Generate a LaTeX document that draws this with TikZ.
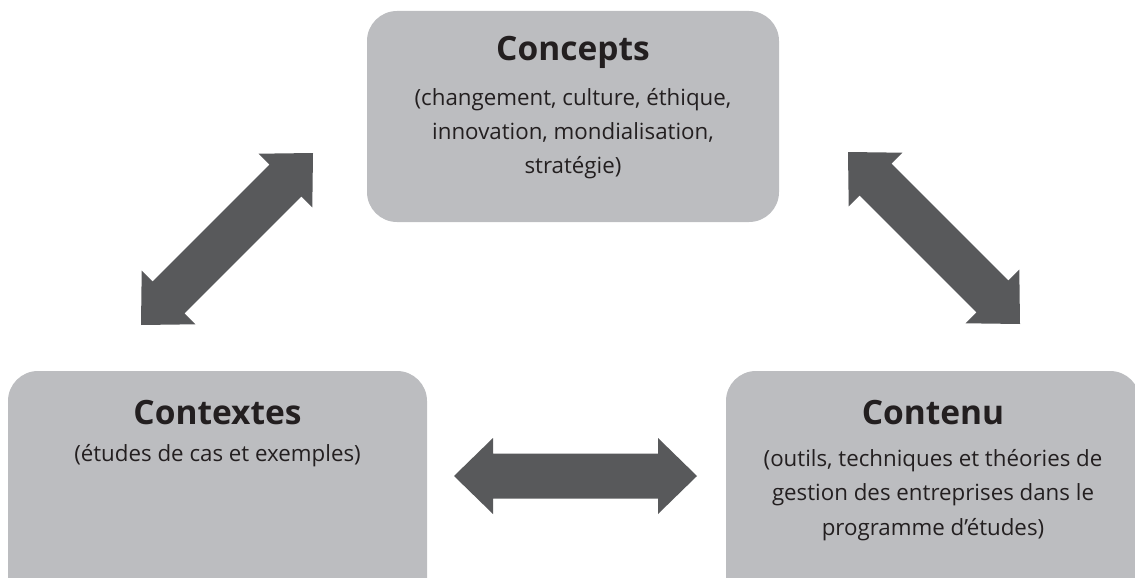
\documentclass[tikz,border=0pt]{standalone}
\usepackage{fontspec}
\setmainfont{Open Sans}
\usetikzlibrary{calc}
\definecolor{boxgray}{HTML}{BCBDC0}
\definecolor{arrowgray}{HTML}{58595B}
\definecolor{txt}{HTML}{231F20}
\newcommand\dblarrow[3]{%
  \coordinate (#1a) at ($(#2)!39pt!(#3)$);
  \coordinate (#1b) at ($(#3)!39pt!(#2)$);
  \fill[arrowgray] (#2) -- ($(#1a)!38pt!90:(#3)$) -- ($(#1a)!22.5pt!90:(#3)$)
    -- ($(#1b)!22.5pt!-90:(#2)$) -- ($(#1b)!38pt!-90:(#2)$) -- (#3)
    -- ($(#1b)!38pt!90:(#2)$) -- ($(#1b)!22.5pt!90:(#2)$)
    -- ($(#1a)!22.5pt!-90:(#3)$) -- ($(#1a)!38pt!-90:(#3)$) -- cycle;}
\begin{document}
\begin{tikzpicture}[x=1pt,y=-1pt,
  box/.style={fill=boxgray, draw=none, rounded corners=30pt, inner sep=0},
  title/.style={font=\fontsize{33.5}{38}\selectfont\bfseries, text=txt, anchor=base, inner sep=0},
  body/.style={font=\fontsize{22.3}{34}\selectfont, text=txt, anchor=base, inner sep=0}]
\useasboundingbox (0,0) rectangle (1135,578);
\clip (0,0) rectangle (1135,578);
% boxes
\node[box, minimum width=412pt, minimum height=211pt] (concepts) at (573,116.5) {};
\node[box, minimum width=419pt, minimum height=240pt] (contextes) at (217.5,491) {};
\node[box, minimum width=414pt, minimum height=240pt] (contenu) at (933,491) {};
% texts
\node[title] (t1) at (573,60) {Concepts};
\node[body] (c1) at (573,105) {(changement, culture, éthique,};
\node[body] (c2) at (573,139) {innovation, mondialisation,};
\node[body] (c3) at (573,173) {stratégie)};
\node[title] (t2) at (217.5,424) {Contextes};
\node[body] (x1) at (217.5,461) {(études de cas et exemples)};
\node[title] (t3) at (933,424) {Contenu};
\node[body] (n1) at (933,466) {(outils, techniques et théories de};
\node[body] (n2) at (933,500.5) {gestion des entreprises dans le};
\node[body] (n3) at (933,535) {programme d’études)};
% arrow end points
\coordinate (lA) at (141,325);
\coordinate (lB) at (313,153);
\coordinate (hA) at (454,476);
\coordinate (hB) at (697,476);
\coordinate (rA) at (848,152);
\coordinate (rB) at (1020,324);
\dblarrow{la}{lA}{lB}
\dblarrow{ha}{hA}{hB}
\dblarrow{ra}{rA}{rB}
\end{tikzpicture}
\end{document}
